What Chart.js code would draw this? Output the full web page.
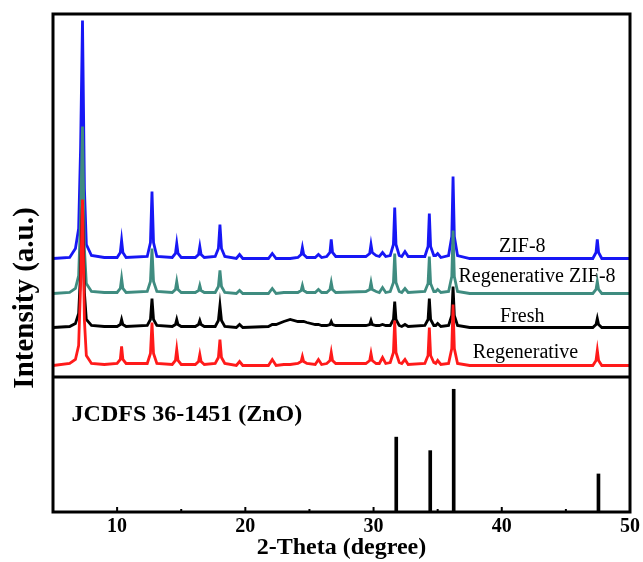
<!DOCTYPE html>
<html>
<head>
<meta charset="utf-8">
<script src="https://cdn.jsdelivr.net/npm/chart.js@4.4.1/dist/chart.umd.min.js"></script>
<style>
  html, body { margin: 0; padding: 0; background: #fff; }
</style>
</head>
<body>
<canvas id="xrd" width="643" height="562"></canvas>
<script>
// 2-Theta positions shared by the four patterns
const twoTheta = [
  5.0,
  6.3, 6.75, 7.0, 7.15, 7.3, 7.45, 7.6, 8.0, 9.0,
  10.0, 10.25, 10.35, 10.45, 10.7,
  12.35, 12.6, 12.72, 12.84, 13.1,
  14.3, 14.55, 14.65, 14.75, 15.0,
  16.1, 16.35, 16.45, 16.55, 16.8,
  17.65, 17.9, 18.02, 18.14, 18.4,
  19.3, 19.55, 19.8,
  21.8, 22.1, 22.4,
  23.0, 23.5,
  24.1, 24.35, 24.45, 24.55, 24.8,
  25.45, 25.7, 25.95,
  26.35, 26.6, 26.7, 26.8, 27.05,
  29.4, 29.7, 29.8, 29.9, 30.2,
  30.45, 30.7, 30.95,
  31.3, 31.55, 31.65, 31.75, 32.0,
  32.2, 32.45, 32.7,
  34.0, 34.25, 34.35, 34.45, 34.7,
  34.85, 35.0, 35.25,
  35.85, 36.1, 36.2, 36.3, 36.55,
  37.5,
  47.1, 47.35, 47.45, 47.55, 47.8,
  50.0
];

// intensities (a.u.) above each pattern's own baseline
const zif8 = [
  0,
  1, 10, 30, 110, 238, 70, 14, 3, 1,
  1, 6, 18, 6, 1,
  2, 16, 67, 16, 2,
  1, 5, 15, 5, 1,
  1, 4, 12, 4, 1,
  2, 10, 34, 10, 2,
  0, 4, 0,
  0, 5, 0,
  0, 0,
  1, 4, 11, 4, 1,
  1, 4, 1,
  2, 6, 19, 6, 2,
  2, 5, 14, 6, 3,
  2, 6, 2,
  3, 14, 51, 14, 3,
  2, 7, 2,
  2, 12, 45, 12, 3,
  3, 5, 1,
  3, 22, 82, 22, 3,
  0,
  0, 6, 19, 6, 0,
  0
];
const regenZif8 = [
  0,
  1, 5, 18, 75, 167, 45, 10, 2, 1,
  1, 5, 15, 5, 1,
  2, 12, 45, 12, 2,
  1, 4, 12, 4, 1,
  1, 3, 8, 3, 1,
  1, 7, 23, 7, 1,
  0, 3, 0,
  0, 5, 0,
  1, 1,
  1, 3, 8, 3, 1,
  1, 4, 1,
  1, 4, 11, 4, 1,
  2, 4, 11, 4, 2,
  1, 6, 1,
  2, 11, 40, 11, 2,
  1, 5, 1,
  2, 10, 37, 10, 2,
  2, 4, 1,
  2, 17, 63, 17, 2,
  0,
  0, 4, 12, 4, 0,
  0
];
const fresh = [
  0,
  1, 4, 14, 55, 125, 35, 8, 2, 1,
  1, 3, 8, 3, 1,
  2, 8, 29, 8, 2,
  1, 3, 8, 3, 1,
  1, 3, 7, 3, 1,
  1, 7, 22, 7, 1,
  0, 3, 0,
  1, 3, 3,
  6, 8,
  6, 6, 6, 6, 5,
  3, 3, 2,
  2, 3, 6, 3, 2,
  2, 3, 7, 3, 2,
  2, 3, 2,
  2, 8, 26, 8, 2,
  1, 3, 1,
  2, 8, 29, 8, 2,
  2, 4, 1,
  2, 12, 41, 12, 2,
  0,
  0, 3, 9, 3, 0,
  0
];
const regenerative = [
  0,
  2, 6, 20, 80, 166, 45, 10, 2, 1,
  2, 6, 19, 6, 2,
  2, 12, 43, 12, 2,
  1, 5, 16, 5, 1,
  1, 4, 11, 4, 1,
  2, 8, 26, 8, 2,
  0, 4, 0,
  0, 6, 0,
  1, 1,
  2, 4, 9, 4, 2,
  1, 6, 1,
  2, 5, 13, 5, 2,
  2, 5, 12, 5, 2,
  2, 8, 2,
  3, 13, 45, 13, 3,
  2, 6, 1,
  2, 10, 38, 10, 3,
  2, 5, 1,
  2, 17, 61, 17, 2,
  0,
  0, 5, 15, 5, 0,
  0
];

const seriesNames = ['ZIF-8', 'Regenerative ZIF-8', 'Fresh', 'Regenerative'];

// JCPDS 36-1451 (ZnO) reference lines
const refTwoTheta = [31.77, 34.42, 36.25, 47.54];
const refIntensity = [61, 50, 100, 31];
const refName = 'JCDFS 36-1451 (ZnO)';

const xTicks = [10, 20, 30, 40, 50];
const xMinorTicks = [15, 25, 35, 45];

const serif = "'Liberation Serif', 'Times New Roman', serif";

// stacking offsets and colours, top pattern first
const patterns = [
  { label: seriesNames[0], values: zif8, offset: 118.5, color: '#1717f5', spot: [41.6, 125.3] },
  { label: seriesNames[1], values: regenZif8, offset: 83.5, color: '#3f8c80', spot: [42.75, 95.3] },
  { label: seriesNames[2], values: fresh, offset: 49.5, color: '#000000', spot: [41.6, 55.3] },
  { label: seriesNames[3], values: regenerative, offset: 11.5, color: '#ff1a1a', spot: [41.85, 18.7] }
];

// lowest pattern drawn last (on top), so reverse for chart.js ordering
const lineSets = patterns.slice().reverse().map(p => ({
  type: 'line',
  label: p.label,
  data: twoTheta.map((t, i) => ({ x: t, y: p.values[i] + p.offset })),
  borderColor: p.color,
  borderWidth: 2.8,
  pointRadius: 0,
  tension: 0,
  yAxisID: 'yt'
}));

const frame = {
  id: 'frame',
  afterDraw(chart) {
    const ctx = chart.ctx;
    const a = chart.chartArea;
    const x = chart.scales.x;
    const yt = chart.scales.yt;
    const yb = chart.scales.yb;
    ctx.save();
    ctx.strokeStyle = '#000';
    ctx.lineWidth = 3;
    ctx.strokeRect(a.left, a.top, a.right - a.left, a.bottom - a.top);
    ctx.beginPath();
    ctx.moveTo(a.left, yt.bottom);
    ctx.lineTo(a.right, yt.bottom);
    ctx.stroke();

    // small inward ticks on the bottom axis
    ctx.lineWidth = 2;
    xTicks.forEach(v => {
      const px = x.getPixelForValue(v);
      ctx.beginPath(); ctx.moveTo(px, a.bottom); ctx.lineTo(px, a.bottom - 5); ctx.stroke();
    });
    xMinorTicks.forEach(v => {
      const px = x.getPixelForValue(v);
      ctx.beginPath(); ctx.moveTo(px, a.bottom); ctx.lineTo(px, a.bottom - 3); ctx.stroke();
    });

    // pattern names
    ctx.fillStyle = '#000';
    ctx.font = '20px ' + serif;
    ctx.textAlign = 'center';
    ctx.textBaseline = 'alphabetic';
    patterns.forEach(p => {
      ctx.fillText(p.label, x.getPixelForValue(p.spot[0]), yt.getPixelForValue(p.spot[1]));
    });

    // reference card name
    ctx.font = 'bold 24px ' + serif;
    ctx.textAlign = 'left';
    ctx.fillText(refName, x.getPixelForValue(6.45), yb.getPixelForValue(74));

    // y title
    ctx.font = 'bold 29px ' + serif;
    ctx.translate(26, 298);
    ctx.rotate(-Math.PI / 2);
    ctx.textAlign = 'center';
    ctx.textBaseline = 'middle';
    ctx.fillText('Intensity (a.u.)', 0, 0);
    ctx.restore();
  }
};

new Chart(document.getElementById('xrd'), {
  type: 'line',
  data: {
    datasets: [
      ...lineSets,
      {
        type: 'bar',
        label: refName,
        data: refTwoTheta.map((t, i) => ({ x: t, y: refIntensity[i] })),
        backgroundColor: '#000',
        barThickness: 3,
        yAxisID: 'yb'
      }
    ]
  },
  options: {
    responsive: false,
    devicePixelRatio: 1,
    animation: false,
    layout: { padding: { left: 53, top: 14, right: 13, bottom: 0 } },
    plugins: { legend: { display: false }, tooltip: { enabled: false } },
    scales: {
      x: {
        type: 'linear',
        min: 5,
        max: 50,
        offset: false,
        afterBuildTicks: s => { s.ticks = xTicks.map(v => ({ value: v })); },
        afterFit: s => { s.height = 50; },
        grid: { display: false, drawTicks: false },
        border: { display: false },
        ticks: { color: '#000', font: { family: serif, size: 20, weight: 'bold' }, padding: 3, maxRotation: 0 },
        title: {
          display: true,
          text: '2-Theta (degree)',
          color: '#000',
          font: { family: serif, size: 24, weight: 'bold' },
          padding: { top: 0, bottom: 0 }
        }
      },
      yb: {
        type: 'linear',
        position: 'left',
        stack: 'panels',
        stackWeight: 135,
        min: 0,
        max: 110,
        afterFit: s => { s.width = 0; },
        grid: { display: false, drawTicks: false },
        border: { display: false },
        ticks: { display: false }
      },
      yt: {
        type: 'linear',
        position: 'left',
        stack: 'panels',
        stackWeight: 363,
        min: 0,
        max: 363,
        afterFit: s => { s.width = 0; },
        grid: { display: false, drawTicks: false },
        border: { display: false },
        ticks: { display: false }
      }
    }
  },
  plugins: [frame]
});
</script>
</body>
</html>
